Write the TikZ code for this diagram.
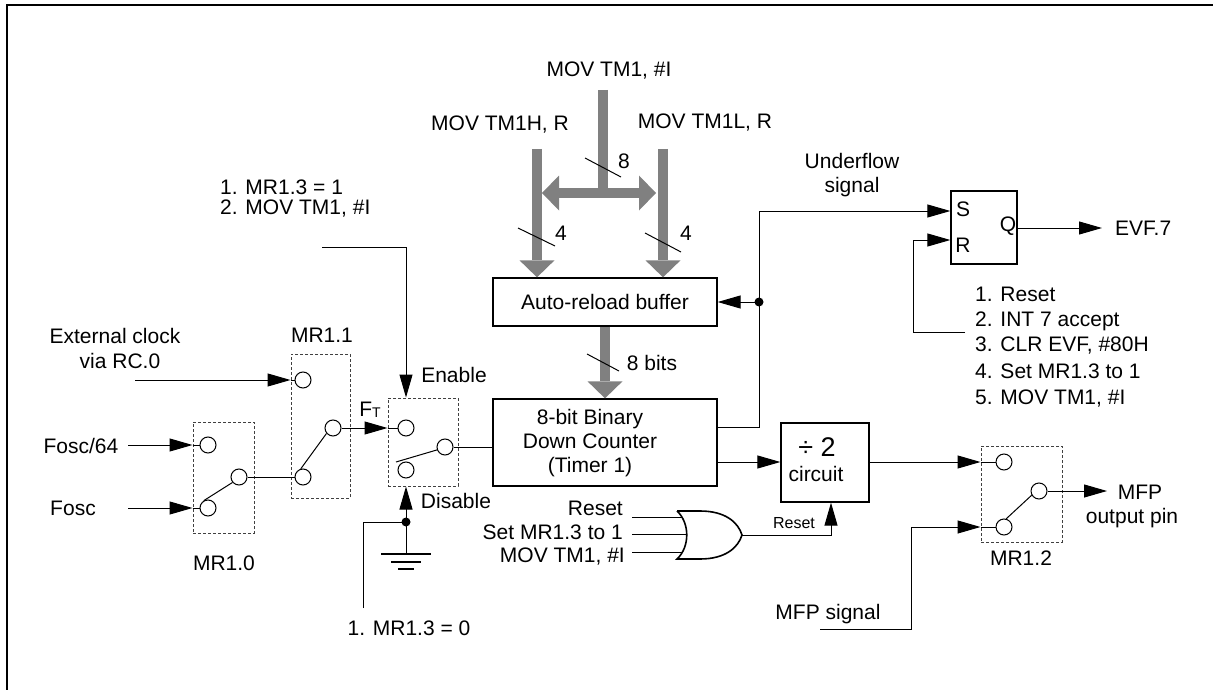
\documentclass[tikz,border=0pt]{standalone}
\usepackage{fontspec}
\setmainfont{Liberation Sans}
\usetikzlibrary{arrows.meta,calc}
\definecolor{busgray}{HTML}{808080}
\tikzset{
  wln/.style={line width=1pt, draw=black},
  arr/.style={wln, -{Triangle[length=23pt,width=13pt]}},
  busline/.style={line width=10pt, draw=busgray},
  busarr/.style={busline, -{Triangle[length=17pt,width=35pt,line width=0pt,fill=busgray]}},
  busdbl/.style={busline, {Triangle[length=17pt,width=35pt,line width=0pt,fill=busgray]}-{Triangle[length=17pt,width=35pt,line width=0pt,fill=busgray]}},
  blk/.style={draw=black, line width=1.3pt, inner sep=0pt},
  dbox/.style={draw=black!75, dash pattern=on 3pt off 2pt, line width=1pt, inner sep=0pt},
  swpin/.style={circle, draw=black, line width=1pt, minimum size=16pt, inner sep=0pt, fill=white},
  slash/.style={line width=1pt, draw=black},
  jdot/.style={circle, fill=black, inner sep=0pt, minimum size=9pt},
  every node/.style={inner sep=0pt}
}
\begin{document}
\begin{tikzpicture}[x=1pt,y=-1pt,font=\fontsize{21}{24}\selectfont]
\useasboundingbox (0,0) rectangle (1213,690);
\draw[line width=2pt] (1213,5) -- (7,5) -- (7,690);

% ---------- top bus ----------
\node (tmovi) at (609,71) {MOV TM1, \#I};
\node (tmovh) at (500,125) {MOV TM1H, R};
\node (tmovl) at (705,123) {MOV TM1L, R};

\node[blk, minimum width=224pt, minimum height=48pt] (arb) at (605,302) {Auto-reload buffer};
\node[blk, minimum width=224pt, minimum height=87pt] (cnt) at (605,442.5) {};
\node[align=center] (cnttxt) at (590,443) {8-bit Binary\\Down Counter\\(Timer 1)};

\coordinate (bTop) at (603,90);
\coordinate (bMid) at (603,193);
\coordinate (hL) at (542,193);
\coordinate (hR) at (656,193);
\coordinate (bL) at (537,149);
\coordinate (bR) at (663,149);
\draw[busline] (bTop) -- (bMid);
\draw[busdbl] (hL) -- (hR);
\draw[busarr] (bL) -- (bL |- arb.north);
\draw[busarr] (bR) -- (bR |- arb.north);
\draw[busarr] (arb.south) -- (cnt.north);

\draw[slash] (585,158) -- (621,177);
\node (n8) at (624,161) {8};
\draw[slash] (518,228) -- (555,246);
\node (n4a) at (561,233) {4};
\draw[slash] (645,233) -- (681,252);
\node (n4b) at (686,233) {4};
\draw[slash] (587,354) -- (619,371);
\node (n8b) at (652,363) {8 bits};

% ---------- SR flip-flop ----------
\node[blk, minimum width=66pt, minimum height=73pt] (sr) at (984,227.5) {};
\node (srS) at (963,209) {S};
\node (srR) at (963,245) {R};
\node (srQ) at (1008,226) {Q};

\node[align=center] (uftxt) at (852,175) {Underflow\\signal};
\coordinate (ufo) at (717,427);
\coordinate (ufc) at (759,427);
\coordinate (uft) at (759,211);
\draw[wln] (ufo) -- (ufc) -- (uft);
\draw[arr] (uft) -- (uft -| sr.west);
\node[jdot] (ufdot) at (759,302) {};
\draw[arr] (ufdot.center) -- (ufdot.center -| arb.east);

\coordinate (rA) at (965,332);
\coordinate (rB) at (913,332);
\coordinate (rC) at (913,240);
\draw[arr] (rA) -- (rB) -- (rC) -- (rC -| sr.west);

\node[anchor=west] (l1) at (975,294) {1. Reset};
\node[anchor=west] (l2) at (975,321) {2. INT 7 accept};
\node[anchor=west] (l3) at (975,346) {3. CLR EVF, \#80H};
\node[anchor=west] (l4) at (975,371) {4. Set MR1.3 to 1};
\node[anchor=west] (l5) at (975,399) {5. MOV TM1, \#I};

\coordinate (qo) at (1017,228);
\coordinate (qt) at (1102,228);
\draw[arr] (qo) -- (qt);
\node[anchor=west] (evf) at (1115,228) {EVF.7};

% ---------- divide by 2 ----------
\node[blk, minimum width=88pt, minimum height=79pt] (div) at (825,462.5) {};
\node (divs) at (817,447) {\fontsize{27}{27}\selectfont ÷ 2};
\node (divc) at (816,474) {circuit};
\coordinate (co2) at (717,462);
\draw[arr] (co2) -- (co2 -| div.west);

% ---------- MR1.2 ----------
\node[dbox, minimum width=81pt, minimum height=96pt] (sw2) at (1021.5,494) {};
\node[swpin] (c2a) at (1004,462) {};
\node[swpin] (c2b) at (1004,527) {};
\node[swpin] (c2o) at (1039,491) {};
\draw[wln] (c2b.75) -- (c2o.210);
\draw[arr] (div.east |- c2a) -- (sw2.west |- c2a);
\draw[wln] (sw2.west |- c2a) -- (c2a.west);
\coordinate (mfpo) at (1107,491);
\draw[arr] (c2o.east) -- (mfpo);
\node (mfp1) at (1140,492) {MFP};
\node (mfp2) at (1132,518) {output pin};
\node (mr12) at (1021,558) {MR1.2};

\node (mfps) at (828,614) {MFP signal};
\coordinate (ms1) at (820,629);
\coordinate (ms2) at (911,629);
\coordinate (ms3) at (911,527);
\draw[wln] (ms1) -- (ms2) -- (ms3);
\draw[arr] (ms3) -- (ms3 -| sw2.west);
\draw[wln] (ms3 -| sw2.west) -- (c2b.west);

% ---------- OR gate ----------
\coordinate (gt) at (677,511);
\coordinate (gb) at (677,559);
\coordinate (go) at (742,535);
\draw[line width=1.6pt] (gt) -- (700,511) .. controls (725,511) and (738,522) .. (go)
  .. controls (738,548) and (725,559) .. (700,559) -- (gb)
  .. controls (690,547) and (690,523) .. (gt);
\node[anchor=east] (rin1) at (623,508) {Reset};
\node[anchor=east] (rin2) at (623,532) {Set MR1.3 to 1};
\node[anchor=east] (rin3) at (625,557) {MOV TM1, \#I};
\coordinate (i1a) at (632,517); \coordinate (i1b) at (682,517);
\coordinate (i2a) at (632,534); \coordinate (i2b) at (687,534);
\coordinate (i3a) at (632,552); \coordinate (i3b) at (682,552);
\draw[wln] (i1a) -- (i1b);
\draw[wln] (i2a) -- (i2b);
\draw[wln] (i3a) -- (i3b);
\coordinate (gr) at (831,535);
\draw[arr] (go) -- (gr) -- (gr |- div.south);
\node[font=\fontsize{16}{16}\selectfont] (rstl) at (794,523) {Reset};

% ---------- Enable switch ----------
\node[dbox, minimum width=70pt, minimum height=88pt] (swe) at (423,442) {};
\node[swpin] (cea) at (406,428) {};
\node[swpin] (ceb) at (406,470) {};
\node[swpin] (ceo) at (445,447) {};
\coordinate (lev) at (396,462);
\draw[wln] (lev) -- (ceo.200);
\draw[wln] (ceo.east) -- (ceo.east -| cnt.west);
\node (ena) at (454,375) {Enable};
\node (dis) at (456,501) {Disable};
\node (ft) at (370,410) {F\raisebox{-1pt}{\fontsize{14}{14}\selectfont T}};

\node[anchor=west] (mr13a) at (220,187) {1. MR1.3 = 1};
\node[anchor=west] (mr13b) at (220,209) {2. MOV TM1, \#I};
\coordinate (e0) at (322,247);
\coordinate (e1) at (406,247);
\draw[arr] (e0) -- (e1) -- (e1 |- swe.north);

% ground / disable
\node[jdot] (gnd) at (406,522) {};
\coordinate (g0) at (363,608);
\coordinate (g1) at (363,522);
\draw[wln] (g0) -- (g1) -- (gnd.center);
\draw[arr] (gnd.center) -- (gnd.center |- swe.south);
\coordinate (gbase) at (406,554);
\draw[wln] (gnd.center) -- (gbase);
\draw[line width=1.5pt] (381,554) -- (431,554);
\draw[line width=1.5pt] (391,562) -- (421,562);
\draw[line width=1.5pt] (398,569) -- (414,569);
\node (m130) at (409,628) {1. MR1.3 = 0};

% ---------- MR1.1 ----------
\node[dbox, minimum width=59pt, minimum height=144pt] (sw1) at (320.5,426) {};
\node[swpin] (c1a) at (303,380) {};
\node[swpin] (c1b) at (303,477) {};
\node[swpin] (c1o) at (333,428) {};
\draw[wln] (c1b.105) -- (c1o.220);
\node (mr11) at (322,335) {MR1.1};
\node (ext1) at (115,336) {External clock};
\node (ext2) at (120,361) {via RC.0};
\coordinate (ex0) at (135,380);
\draw[arr] (ex0) -- (ex0 -| sw1.west);
\draw[wln] (ex0 -| sw1.west) -- (c1a.west);
\draw[arr] (c1o.east) -- (c1o -| swe.west);
\draw[wln] (c1o -| swe.west) -- (cea.west);

% ---------- MR1.0 ----------
\node[dbox, minimum width=61pt, minimum height=111pt] (sw0) at (223.5,477.5) {};
\node[swpin] (c0a) at (208,445) {};
\node[swpin] (c0b) at (208,508) {};
\node[swpin] (c0o) at (239,477) {};
\draw[wln] (c0b.120) -- (c0o.220);
\draw[wln] (c0o.east) -- (c1b.west);
\node (fosc64) at (81,446) {Fosc/64};
\coordinate (f0) at (128,445);
\draw[arr] (f0) -- (f0 -| sw0.west);
\draw[wln] (f0 -| sw0.west) -- (c0a.west);
\node (fosc) at (73,508) {Fosc};
\coordinate (f1) at (128,508);
\draw[arr] (f1) -- (f1 -| sw0.west);
\draw[wln] (f1 -| sw0.west) -- (c0b.west);
\node (mr10) at (224,563) {MR1.0};
\end{tikzpicture}
\end{document}
